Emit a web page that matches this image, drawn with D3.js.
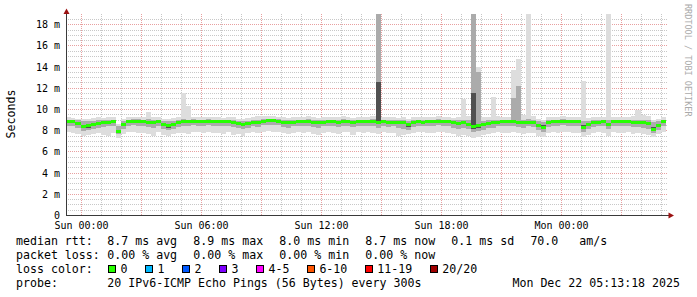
<!DOCTYPE html>
<html>
<head>
<meta charset="utf-8">
<script src="https://cdn.jsdelivr.net/npm/d3@7"></script>
<style>
  body { margin: 0; background: #fff; }
  svg text { font-family: "DejaVu Sans Mono", monospace; }
  .legend text { white-space: pre; }
</style>
</head>
<body>
<div id="chart"></div>
<script>
// smokeping style graph, last 30 hours

var width = 697;
var height = 297;

var startTime = Date.UTC(2025, 11, 20, 23, 13, 18);
var endTime = Date.UTC(2025, 11, 22, 5, 13, 18);
var stepMs = 15 * 60 * 1000;

// median rtt (ms) per 15 min step
var median = [
  8.85,8.85,8.70,8.40,8.45,8.55,8.65,8.75,8.80,8.85,
  7.95,8.60,8.85,8.90,8.90,8.85,8.80,8.75,8.85,8.60,
  8.45,8.60,8.75,8.85,8.85,8.90,8.85,8.85,8.90,8.85,
  8.85,8.85,8.85,8.80,8.70,8.60,8.70,8.80,8.80,8.90,
  8.95,8.95,8.90,8.80,8.75,8.80,8.85,8.85,8.85,8.80,
  8.75,8.80,8.85,8.85,8.80,8.85,8.85,8.80,8.85,8.85,
  8.85,8.85,8.80,8.85,8.80,8.80,8.75,8.80,8.55,8.80,
  8.85,8.80,8.85,8.85,8.90,8.85,8.85,8.75,8.70,8.75,
  8.60,8.40,8.50,8.55,8.70,8.75,8.80,8.85,8.85,8.85,
  8.80,8.75,8.80,8.80,8.50,8.30,8.80,8.85,8.85,8.90,
  8.85,8.85,8.85,8.30,8.60,8.80,8.80,8.85,8.60,8.85,
  8.85,8.85,8.85,8.80,8.80,8.75,8.70,8.15,8.50,8.85
];

// slowest ping (outer smoke top)
var pingMax = [
  9.20,9.15,9.10,9.05,9.10,9.15,9.20,9.15,9.20,9.25,
  8.60,9.10,9.20,9.25,9.20,9.20,9.75,9.20,9.20,9.10,
  9.10,9.15,9.20,11.5,10.3,9.25,9.20,9.20,9.25,9.20,
  9.20,9.15,9.20,9.25,9.10,9.05,9.15,9.20,9.30,9.30,
  9.35,9.30,9.25,9.20,9.15,9.20,9.25,9.20,9.30,9.20,
  9.15,9.20,9.25,9.20,9.20,9.30,9.20,9.15,9.20,9.25,
  9.20,9.30,20.0,9.20,9.25,9.20,9.15,9.20,9.10,9.20,
  9.25,9.20,9.25,9.20,9.30,9.20,9.20,9.15,9.20,10.9,
  9.30,20.0,14.0,9.20,9.25,11.1,9.30,9.20,9.25,13.7,
  14.7,9.40,20.0,9.30,9.10,9.00,9.20,9.25,9.20,9.30,
  9.20,9.25,9.20,12.6,9.15,9.20,9.25,9.20,20.0,9.20,
  9.25,9.20,9.25,9.30,9.90,9.40,9.30,9.00,9.05,9.20
];

// fastest ping (outer smoke bottom)
var pingMin = [
  7.80,7.70,7.65,7.50,7.55,7.60,7.75,7.55,7.50,7.70,
  7.30,7.60,7.80,7.85,7.70,7.75,7.60,7.50,7.80,7.55,
  7.45,7.60,7.70,7.75,7.65,7.85,7.80,7.70,7.80,7.75,
  7.70,7.60,7.80,7.55,7.65,7.50,7.70,7.80,7.75,7.85,
  7.90,7.80,7.85,7.70,7.60,7.75,7.80,7.70,7.85,7.60,
  7.55,7.75,7.80,7.70,7.60,7.80,7.85,7.55,7.80,7.75,
  7.80,7.70,7.60,7.85,7.70,7.75,7.50,7.55,7.60,7.75,
  7.85,7.80,7.75,7.70,7.85,7.80,7.75,7.60,7.50,7.55,
  7.45,7.30,7.40,7.55,7.65,7.70,7.80,7.75,7.70,7.80,
  7.75,7.60,7.70,7.75,7.50,7.40,7.70,7.80,7.75,7.85,
  7.80,7.70,7.75,7.35,7.55,7.70,7.80,7.75,7.50,7.80,
  7.75,7.70,7.80,7.60,7.75,7.65,7.55,7.40,7.60,7.85
];

// middle smoke band
var pingHigh = [
  9.00,9.00,8.95,8.85,8.85,8.90,8.95,8.95,9.00,9.00,
  8.40,8.90,9.00,9.05,9.05,9.00,9.05,8.95,9.00,8.90,
  8.85,8.90,8.95,9.05,9.00,9.05,9.00,9.00,9.05,9.00,
  9.00,9.00,9.00,9.00,8.90,8.85,8.90,9.00,9.00,9.05,
  9.10,9.10,9.05,9.00,8.95,9.00,9.00,9.00,9.05,9.00,
  8.95,9.00,9.00,9.00,9.00,9.05,9.00,8.95,9.00,9.00,
  9.00,9.05,20.0,9.00,9.00,9.00,8.95,9.00,8.90,9.00,
  9.00,9.00,9.00,9.00,9.05,9.00,9.00,8.95,8.95,9.00,
  8.95,20.0,13.5,8.90,8.95,9.00,9.00,9.00,9.00,11.0,
  12.2,9.00,9.05,9.00,8.85,8.80,9.00,9.00,9.00,9.05,
  9.00,9.00,9.00,8.90,8.90,9.00,9.00,9.00,8.95,9.00,
  9.00,9.00,9.00,9.00,9.00,9.00,8.95,8.80,8.85,9.00
];
var pingLow = [
  8.40,8.35,8.20,7.95,8.00,8.10,8.20,8.30,8.35,8.40,
  7.60,8.10,8.40,8.45,8.40,8.35,8.30,8.25,8.35,8.10,
  8.00,8.15,8.30,8.40,8.35,8.45,8.40,8.35,8.45,8.40,
  8.35,8.40,8.40,8.30,8.20,8.10,8.25,8.35,8.30,8.45,
  8.50,8.45,8.45,8.30,8.25,8.35,8.40,8.35,8.40,8.30,
  8.25,8.35,8.40,8.35,8.30,8.40,8.40,8.30,8.40,8.35,
  8.40,8.35,8.20,8.40,8.30,8.35,8.25,8.10,8.00,8.30,
  8.40,8.35,8.40,8.35,8.45,8.40,8.35,8.25,8.15,8.20,
  8.10,7.85,7.95,8.05,8.20,8.25,8.35,8.40,8.35,8.40,
  8.30,8.25,8.35,8.30,8.00,7.80,8.30,8.40,8.35,8.45,
  8.40,8.35,8.40,7.85,8.10,8.30,8.35,8.40,8.10,8.40,
  8.35,8.40,8.40,8.30,8.30,8.25,8.15,7.70,8.00,8.40
];

// inner (dark) smoke band
var coreHigh = [
  8.90,8.90,8.75,8.50,8.50,8.60,8.70,8.80,8.85,8.90,
  8.05,8.65,8.90,8.95,8.95,8.90,8.85,8.80,8.90,8.65,
  8.50,8.65,8.80,8.90,8.90,8.95,8.90,8.90,8.95,8.90,
  8.90,8.90,8.90,8.85,8.75,8.65,8.75,8.85,8.85,8.95,
  9.00,9.00,8.95,8.85,8.80,8.85,8.90,8.90,8.90,8.85,
  8.80,8.85,8.90,8.90,8.85,8.90,8.90,8.85,8.90,8.90,
  8.90,8.90,12.5,8.90,8.85,8.85,8.80,8.85,8.70,8.85,
  8.90,8.85,8.90,8.90,8.95,8.90,8.90,8.80,8.75,8.80,
  8.65,11.5,8.60,8.60,8.75,8.80,8.85,8.90,8.90,8.90,
  8.85,8.80,8.85,8.85,8.60,8.45,8.85,8.90,8.90,8.95,
  8.90,8.90,8.90,8.45,8.65,8.85,8.85,8.90,8.70,8.90,
  8.90,8.90,8.90,8.85,8.85,8.80,8.75,8.30,8.55,8.90
];
var coreLow = [
  8.70,8.70,8.50,8.20,8.25,8.40,8.50,8.60,8.65,8.70,
  7.80,8.40,8.70,8.75,8.75,8.70,8.60,8.55,8.70,8.40,
  8.25,8.45,8.60,8.70,8.70,8.75,8.70,8.70,8.75,8.70,
  8.70,8.70,8.70,8.65,8.50,8.40,8.55,8.65,8.65,8.75,
  8.80,8.80,8.75,8.65,8.60,8.65,8.70,8.70,8.70,8.65,
  8.60,8.65,8.70,8.70,8.65,8.70,8.70,8.65,8.70,8.70,
  8.70,8.70,8.60,8.70,8.65,8.65,8.55,8.60,8.30,8.65,
  8.70,8.65,8.70,8.70,8.75,8.70,8.70,8.60,8.50,8.55,
  8.40,8.15,8.25,8.35,8.55,8.60,8.65,8.70,8.70,8.70,
  8.65,8.60,8.65,8.65,8.30,8.10,8.65,8.70,8.70,8.75,
  8.70,8.70,8.70,8.10,8.40,8.65,8.65,8.70,8.40,8.70,
  8.70,8.70,8.70,8.65,8.65,8.55,8.50,7.95,8.30,8.70
];

// legend content
var rttStats = ["8.7 ms avg", "8.9 ms max", "8.0 ms min", "8.7 ms now", "0.1 ms sd", "70.0   am/s"];
var lossStats = ["0.00 % avg", "0.00 % max", "0.00 % min", "0.00 % now"];
var lossLabels = ["0", "1", "2", "3", "4-5", "6-10", "11-19", "20/20"];
var lossColors = ["#26ff00", "#00b8ff", "#0059ff", "#7e00ff", "#ff00ff", "#ff5500", "#ff0000", "#a00000"];
var probeText = "20 IPv6-ICMP Echo Pings (56 Bytes) every 300s";
var yTicks = [0, 2, 4, 6, 8, 10, 12, 14, 16, 18];


var svg = d3.select('#chart').append('svg')
    .attr('width', width)
    .attr('height', height)
    .style('display', 'block');

svg.append('rect').attr('width', width).attr('height', height).attr('fill', '#fff');

var x = d3.scaleUtc().domain([startTime, endTime]).range([66, 666]);
var y = d3.scaleLinear().domain([0, 19]).range([215, 13.6]);

function px(v) { return Math.floor(v); }

var times = d3.range(median.length + 1).map(function (i) { return new Date(startTime + i * stepMs); });

// grid
var grid = svg.append('g').attr('shape-rendering', 'crispEdges');

var minorY = d3.range(0.5, 19, 0.5).filter(function (v) { return v % 2 !== 0; });
grid.selectAll('.gy').data(minorY).enter().append('line')
    .attr('x1', 66).attr('x2', 668)
    .attr('y1', function (d) { return Math.round(y(d)) + 0.5; })
    .attr('y2', function (d) { return Math.round(y(d)) + 0.5; })
    .attr('stroke', '#c8c8c8').attr('stroke-dasharray', '1,1');

var hours = d3.utcHour.every(1).range(new Date(startTime), new Date(endTime));
grid.selectAll('.gx').data(hours.filter(function (d) { return d.getUTCHours() % 3 !== 0; })).enter().append('line')
    .attr('x1', function (d) { return px(x(d)) + 0.5; })
    .attr('x2', function (d) { return px(x(d)) + 0.5; })
    .attr('y1', 14).attr('y2', 215)
    .attr('stroke', '#c8c8c8').attr('stroke-dasharray', '1,1');

grid.selectAll('.my').data(yTicks.slice(1)).enter().append('line')
    .attr('x1', 66).attr('x2', 668)
    .attr('y1', function (d) { return Math.round(y(d)) + 0.5; })
    .attr('y2', function (d) { return Math.round(y(d)) + 0.5; })
    .attr('stroke', '#e8a0a0').attr('stroke-dasharray', '1,1');

grid.selectAll('.mx').data(hours.filter(function (d) { return d.getUTCHours() % 3 === 0; })).enter().append('line')
    .attr('x1', function (d) { return px(x(d)) + 0.5; })
    .attr('x2', function (d) { return px(x(d)) + 0.5; })
    .attr('y1', 14).attr('y2', 215)
    .attr('stroke', '#e8a0a0').attr('stroke-dasharray', '1,1');

// smoke
svg.append('clipPath').attr('id', 'clip')
  .append('rect').attr('x', 66).attr('y', 14).attr('width', 601).attr('height', 201);

var plot = svg.append('g').attr('clip-path', 'url(#clip)').attr('shape-rendering', 'crispEdges');

var bands = [
  { lo: pingMin, hi: pingMax, color: '#dddddd' },
  { lo: pingLow, hi: pingHigh, color: '#ababab' },
  { lo: coreLow, hi: coreHigh, color: '#505050' }
];

bands.forEach(function (b) {
  plot.append('g').selectAll('rect').data(median).enter().append('rect')
      .attr('x', function (d, i) { return px(x(times[i])); })
      .attr('width', function (d, i) { return px(x(times[i + 1])) - px(x(times[i])); })
      .attr('y', function (d, i) { return Math.round(y(b.hi[i])); })
      .attr('height', function (d, i) { return Math.max(1, Math.round(y(b.lo[i])) - Math.round(y(b.hi[i]))); })
      .attr('fill', b.color);
});

// median line, coloured by loss (all 0 here)
plot.append('g').selectAll('rect').data(median).enter().append('rect')
    .attr('x', function (d, i) { return px(x(times[i])); })
    .attr('width', function (d, i) { return px(x(times[i + 1])) - px(x(times[i])); })
    .attr('y', function (d) { return Math.round(y(d)) - 1; })
    .attr('height', 3)
    .attr('fill', lossColors[0]);

// axes
var axisColor = '#3a3a3a';
var arrowColor = '#9b1111';
svg.append('line').attr('x1', 66.5).attr('x2', 66.5).attr('y1', 215).attr('y2', 12)
    .attr('stroke', axisColor).attr('shape-rendering', 'crispEdges');
svg.append('line').attr('x1', 66).attr('x2', 670).attr('y1', 215.5).attr('y2', 215.5)
    .attr('stroke', axisColor).attr('shape-rendering', 'crispEdges');
svg.append('path').attr('d', 'M66.5,8.5 L63.5,14 L69.5,14 Z').attr('fill', arrowColor);
svg.append('path').attr('d', 'M674,215.5 L668.5,212.5 L668.5,218.5 Z').attr('fill', arrowColor);

svg.append('g').selectAll('text').data(yTicks).enter().append('text')
    .attr('x', 60)
    .attr('y', function (d) { return Math.round(y(d)) + 0.5; })
    .attr('dy', d => d === 0 ? '0.3em' : '0.35em')
    .attr('text-anchor', 'end')
    .attr('font-size', 10)
    .text(function (d) { return d === 0 ? '0' : d + ' m'; });

var fmtTick = d3.utcFormat('%a %H:%M');
svg.append('g').selectAll('text').data(d3.utcHour.every(6).range(new Date(startTime), new Date(endTime))).enter().append('text')
    .attr('x', function (d) { return px(x(d)) + 0.5; })
    .attr('y', 228.5)
    .attr('text-anchor', 'middle')
    .attr('font-size', 10)
    .text(function (d) { return fmtTick(d); });

svg.append('text')
    .attr('transform', 'translate(15,114) rotate(-90)')
    .attr('text-anchor', 'middle')
    .attr('font-size', 11.6)
    .text('Seconds');

svg.append('text')
    .attr('transform', 'translate(684.5,4) rotate(90)')
    .attr('font-size', 8.5)
    .attr('fill', '#aaaaaa')
    .text('RRDTOOL / TOBI OETIKER');

// legend
var legend = svg.append('g').attr('class', 'legend').attr('font-size', 11.6);
var colX = 107.3;
var gap = 16.2;

function row(label, items, yy) {
  legend.append('text').attr('x', 16).attr('y', yy).text(label);
  var cx = colX;
  items.forEach(function (t) {
    var el = legend.append('text').attr('x', cx).attr('y', yy).text(t);
    cx += el.node().getComputedTextLength() + gap;
  });
}

row('median rtt:', rttStats, 245);
row('packet loss:', lossStats, 259);

legend.append('text').attr('x', 16).attr('y', 273).text('loss color:');
var sx = 108;
lossLabels.forEach(function (l, i) {
  legend.append('rect')
      .attr('x', sx + 0.5).attr('y', 265.5).attr('width', 7).attr('height', 7)
      .attr('fill', lossColors[i]).attr('stroke', '#000').attr('shape-rendering', 'crispEdges');
  var el = legend.append('text').attr('x', sx + 12.5).attr('y', 273).text(l);
  sx = sx + 12.5 + el.node().getComputedTextLength() + 17.5;
});

legend.append('text').attr('x', 16).attr('y', 287).text('probe:');
legend.append('text').attr('x', colX).attr('y', 287).text(probeText);
legend.append('text').attr('x', 680).attr('y', 287).attr('text-anchor', 'end')
    .text(d3.utcFormat('%a %b %d %H:%M:%S %Y')(new Date(endTime)));
</script>
</body>
</html>
